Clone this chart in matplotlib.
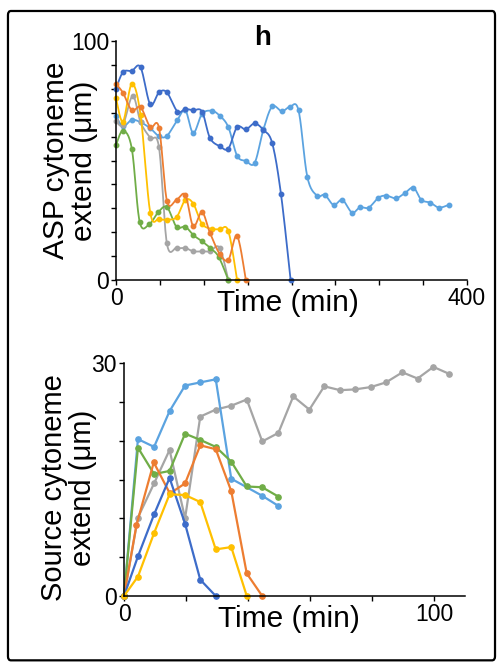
import numpy as np
import matplotlib
matplotlib.use("Agg")
import matplotlib.pyplot as plt
from matplotlib.patches import FancyBboxPatch

plt.rcParams['font.family'] = ['Liberation Sans', 'DejaVu Sans']

# colours (office palette)
c_dblue = '#3d6cc9'
c_lblue = '#5ba3e0'
c_orange = '#ed7d31'
c_gray = '#a5a5a5'
c_yellow = '#ffc000'
c_green = '#70ad47'

# ---- ASP cytoneme data (top panel) ----
asp_dblue_t = [0, 8, 18, 28, 39, 49, 58, 70, 79, 88, 98, 107, 118, 128, 138, 148, 158, 168, 178, 188, 199]
asp_dblue_v = [80, 87, 87.5, 89, 73.5, 78.5, 78.5, 70.5, 71.5, 71, 70.5, 59.5, 56, 55, 64, 63, 65.5, 62.8, 57.3, 36, 0]

asp_lblue_t = [0, 8, 18, 28, 39, 49, 58, 70, 79, 88, 98, 109, 118, 128, 138, 148, 158, 168, 178, 189,
               198, 208, 218, 229, 238, 248, 258, 269, 278, 288, 299, 308, 319, 329, 339, 348, 358, 368, 379]
asp_lblue_v = [68.5, 64.3, 67, 66, 63.5, 60.2, 60.3, 67, 71, 61.5, 69.5, 70.8, 68.8, 64, 52, 49.8, 49, 63, 72.6, 70.6,
               72.4, 71, 43.2, 35.3, 35.6, 31.4, 33.5, 28.2, 30.4, 30.3, 34.4, 35.3, 34.2, 36.3, 38.6, 33.5, 32.4, 30.3, 31.4]

asp_orange_t = [0, 8, 18, 28, 39, 49, 58, 69, 79, 88, 98, 107, 118, 128, 138, 148]
asp_orange_v = [82, 78.3, 71, 72.3, 64, 63.7, 33.2, 33.6, 35.6, 22.5, 28.4, 19.8, 11, 8.4, 18.4, 0]

asp_yellow_t = [0, 8, 18, 28, 39, 49, 58, 69, 79, 88, 98, 109, 118, 128, 138]
asp_yellow_v = [76, 66.3, 82, 69, 28.2, 25.6, 25.3, 26.3, 33.5, 32, 23.5, 21.4, 21.2, 20.5, 0]

asp_gray_t = [0, 8, 19, 28, 39, 49, 58, 69, 79, 88, 98, 107, 118, 128]
asp_gray_v = [66.5, 65, 77, 66, 59.5, 55.5, 15.3, 13.4, 13.4, 12, 12, 12, 13.5, 0]

asp_green_t = [0, 8, 18, 27, 38, 48, 58, 69, 79, 88, 98, 107, 117, 128]
asp_green_v = [56.5, 62.5, 55, 24.3, 23.4, 28.3, 30.5, 22.2, 22.3, 18.8, 16.2, 13.5, 9.7, 0]

# ---- Source cytoneme data (bottom panel) ----
src_lblue_t = [0, 4.5, 9.7, 14.7, 19.7, 24.6, 29.6, 34.6, 44.6, 49.8]
src_lblue_v = [0, 20.2, 19.2, 23.8, 27.1, 27.5, 27.9, 15.1, 12.9, 11.6]

src_green_t = [0, 4.5, 9.7, 14.7, 19.7, 24.6, 29.6, 34.6, 39.6, 44.6, 49.8]
src_green_v = [0, 19.1, 15.7, 16.1, 20.9, 20.1, 19.2, 17.3, 14.1, 14.0, 12.8]

src_orange_t = [0, 4, 9.6, 14.8, 19.7, 24.6, 29.6, 34.6, 39.6, 44.6]
src_orange_v = [0, 9.1, 17.2, 13.2, 14.5, 19.4, 18.9, 13.5, 2.9, 0]

src_gray_t = [0, 4.5, 9.7, 14.7, 19.7, 24.6, 29.6, 34.6, 39.6, 44.6, 49.8, 54.6, 59.8, 64.6, 69.7,
              74.5, 79.6, 84.5, 89.8, 94.7, 99.8, 104.9]
src_gray_v = [0, 10.1, 14.5, 18.8, 10.0, 23.1, 24.0, 24.5, 25.3, 19.9, 21.0, 25.7, 24.0, 27.0, 26.5,
              26.6, 26.9, 27.5, 28.8, 28.0, 29.5, 28.6]

src_dblue_t = [0, 4.5, 9.7, 14.7, 19.7, 24.6, 29.6]
src_dblue_v = [0, 5.1, 10.5, 15.2, 9.3, 2.1, 0]

src_yellow_t = [0, 4.5, 9.7, 14.7, 19.7, 24.6, 29.6, 34.6, 39.6]
src_yellow_v = [0, 2.5, 8.1, 13.1, 13.0, 12.1, 6.0, 6.3, 0]


def smooth(t, v, n=16):
    # catmull-rom curve through the points (like excel smoothed lines)
    P = np.column_stack([np.asarray(t, float), np.asarray(v, float)])
    P = np.vstack([P[0], P, P[-1]])
    s = np.linspace(0, 1, n, endpoint=False)[:, None]
    out = []
    for i in range(1, len(P) - 2):
        p0, p1, p2, p3 = P[i - 1], P[i], P[i + 1], P[i + 2]
        seg = 0.5 * (2 * p1 + (-p0 + p2) * s + (2 * p0 - 5 * p1 + 4 * p2 - p3) * s ** 2
                     + (-p0 + 3 * p1 - 3 * p2 + p3) * s ** 3)
        out.append(seg)
    out.append(P[-2][None])
    arr = np.vstack(out)
    return arr[:, 0], arr[:, 1]


fig = plt.figure(figsize=(4.98, 6.66), dpi=100)

# outer frame
frame = FancyBboxPatch((0.016, 0.0085), 0.978, 0.975, boxstyle="round,pad=0,rounding_size=0.006",
                       transform=fig.transFigure, fill=False, edgecolor='black', linewidth=1.6)
fig.patches.append(frame)

fig.text(263 / 498, 1 - 38 / 666, 'h', ha='center', va='center', fontsize=20, fontweight='bold')

# ---- top panel ----
ax1 = fig.add_axes([116 / 498, 1 - 280 / 666, 351 / 498, 239 / 666])
top_series = [
    (asp_lblue_t, asp_lblue_v, c_lblue),
    (asp_dblue_t, asp_dblue_v, c_dblue),
    (asp_gray_t, asp_gray_v, c_gray),
    (asp_green_t, asp_green_v, c_green),
    (asp_yellow_t, asp_yellow_v, c_yellow),
    (asp_orange_t, asp_orange_v, c_orange),
]
for t, v, c in top_series:
    xs, ys = smooth(t, v)
    ax1.plot(xs, ys, color=c, lw=1.3, clip_on=False)
    ax1.plot(t, v, 'o', color=c, ms=3.2, clip_on=False)

ax1.set_xlim(0, 400)
ax1.set_ylim(0, 100)
ax1.set_xticks(np.arange(0, 401, 50))
ax1.set_xticklabels(['0', '', '', '', '', '', '', '', '400'])
ax1.set_yticks(np.arange(0, 101, 10))
ax1.set_yticklabels(['0'] + [''] * 9 + ['100'])
ax1.set_ylabel('ASP cytoneme\nextend (\u03bcm)', fontsize=21.5, linespacing=1.02)
ax1.yaxis.set_label_coords(-0.05, 0.5)
fig.text(288 / 498, 1 - 303 / 666, 'Time (min)', ha='center', va='center', fontsize=21.5)

# ---- bottom panel ----
ax2 = fig.add_axes([124 / 498, 1 - 596 / 666, 341 / 498, 233 / 666])
bottom_series = [
    (src_gray_t, src_gray_v, c_gray),
    (src_lblue_t, src_lblue_v, c_lblue),
    (src_green_t, src_green_v, c_green),
    (src_orange_t, src_orange_v, c_orange),
    (src_dblue_t, src_dblue_v, c_dblue),
    (src_yellow_t, src_yellow_v, c_yellow),
]
for t, v, c in bottom_series:
    ax2.plot(t, v, '-o', color=c, lw=1.6, ms=3.8, clip_on=False)

ax2.set_xlim(0, 110)
ax2.set_ylim(0, 30)
ax2.set_xticks(np.arange(0, 101, 20))
ax2.set_xticklabels(['0', '', '', '', '', '100'])
ax2.set_yticks(np.arange(0, 31, 5))
ax2.set_yticklabels(['0', '', '', '', '', '', '30'])
ax2.set_ylabel('Source cytoneme\nextend (\u03bcm)', fontsize=21, linespacing=1.05)
ax2.yaxis.set_label_coords(-0.08, 0.465)
fig.text(289 / 498, 1 - 619 / 666, 'Time (min)', ha='center', va='center', fontsize=21.5)

for ax in (ax1, ax2):
    ax.spines['top'].set_visible(False)
    ax.spines['right'].set_visible(False)
    ax.spines['left'].set_linewidth(1.1)
    ax.spines['bottom'].set_linewidth(1.1)
    ax.tick_params(direction='out', length=3.5, width=1.0, labelsize=16.5, pad=1.5)

fig.savefig('out.png', dpi=100)
